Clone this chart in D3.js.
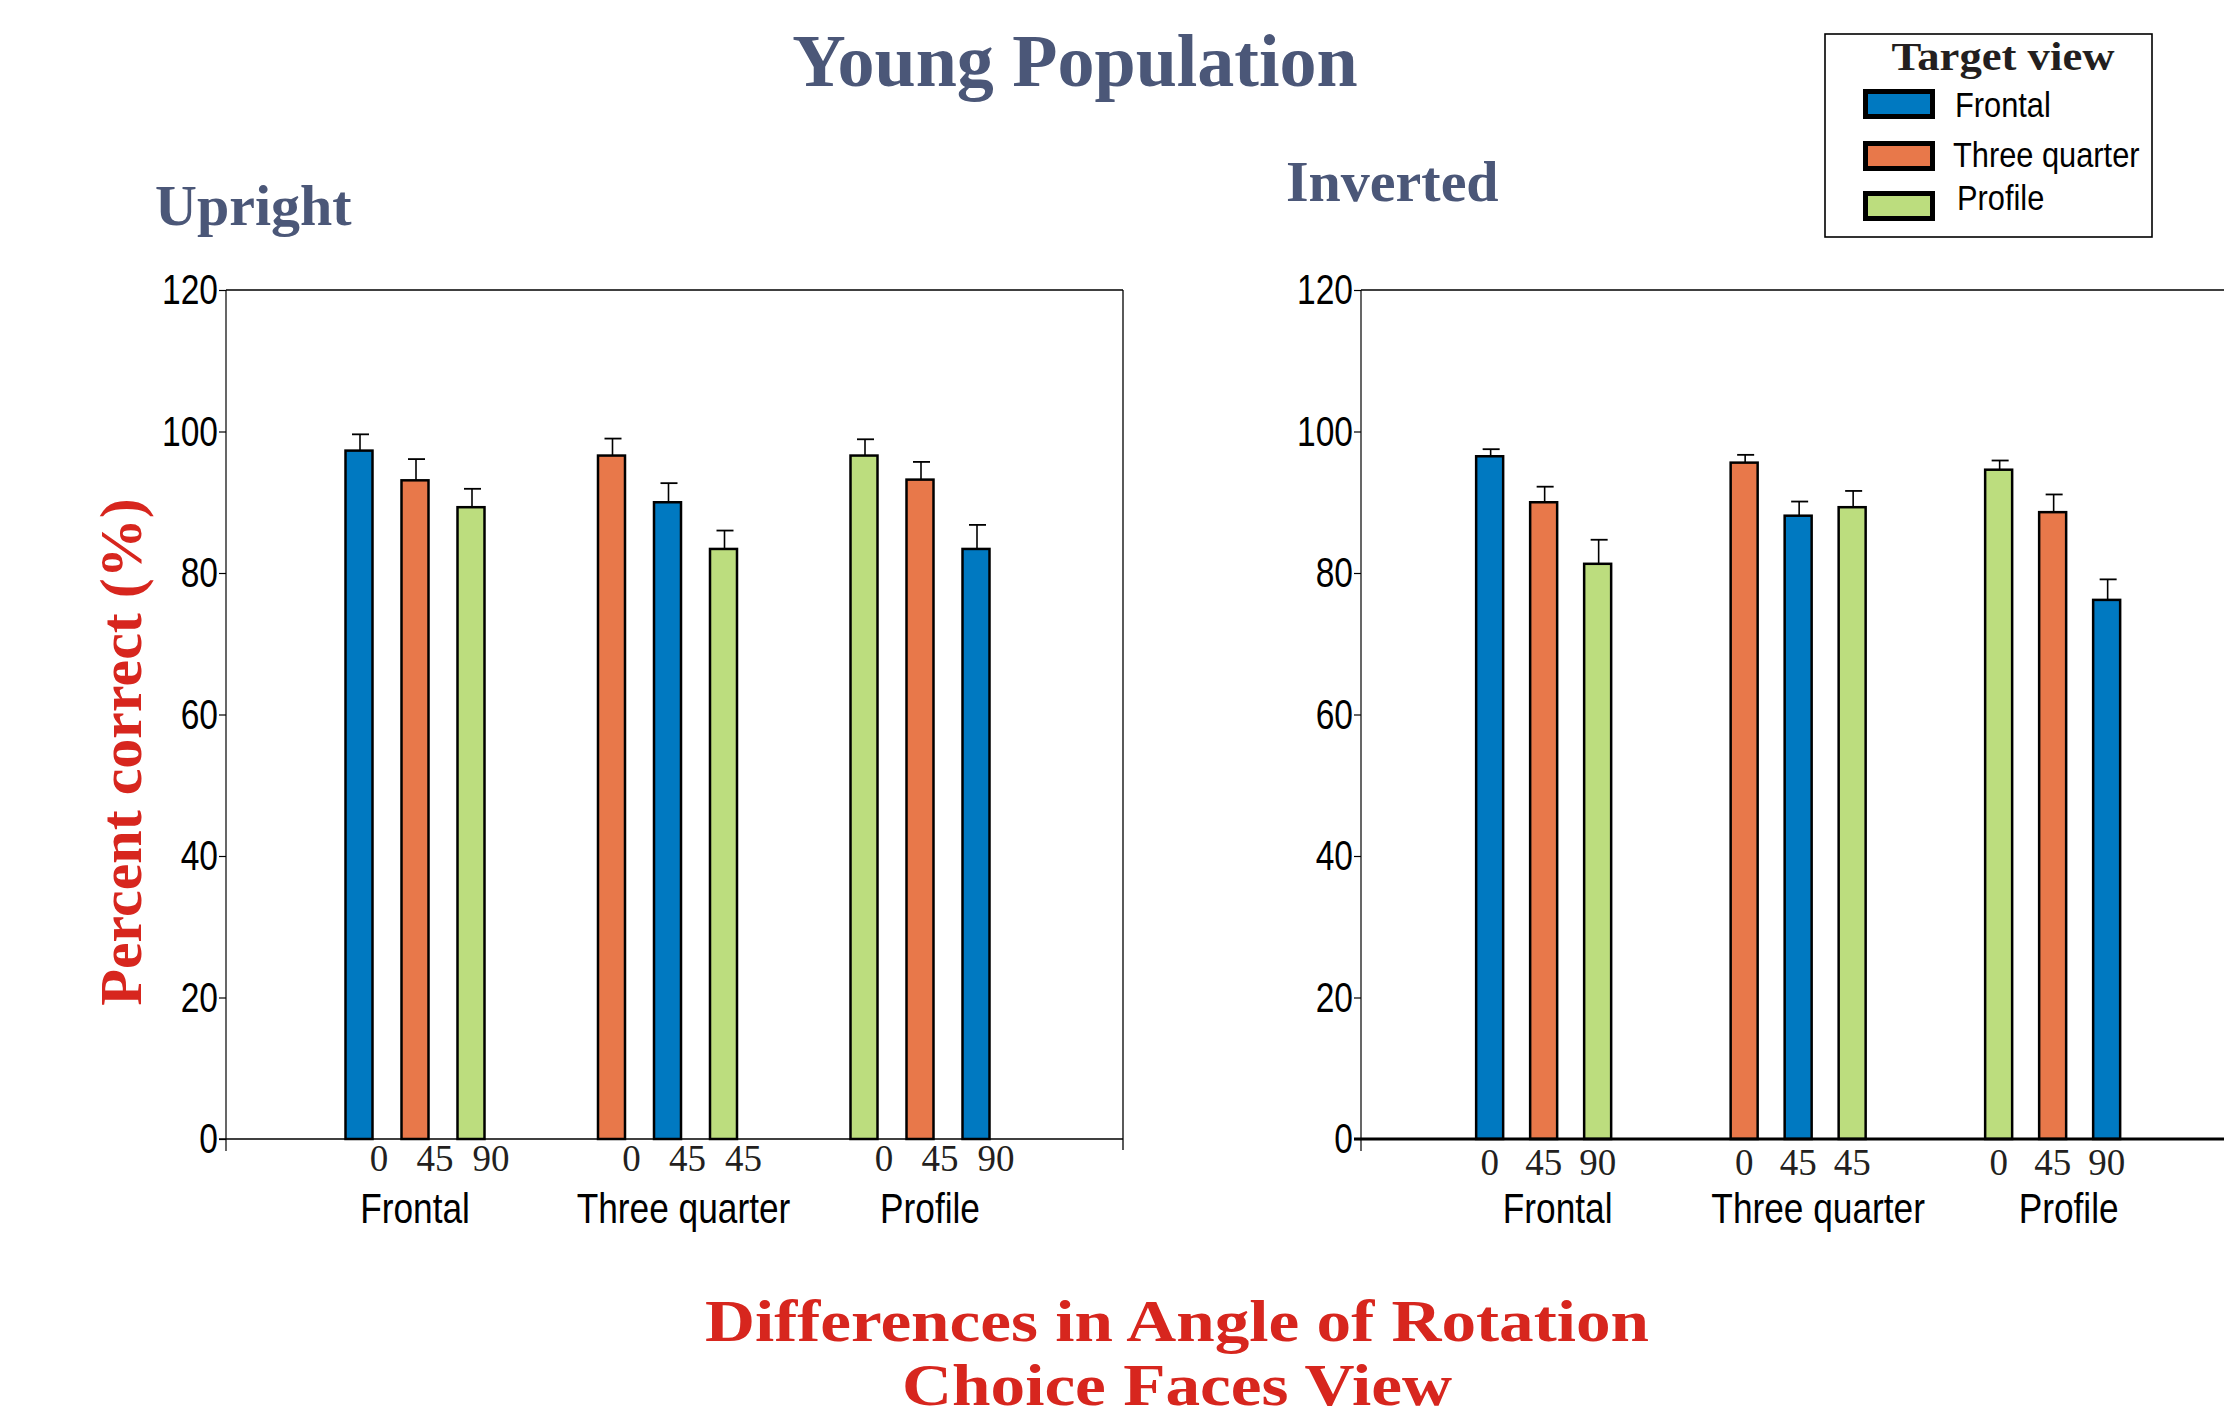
<!DOCTYPE html>
<html>
<head>
<meta charset="utf-8">
<script src="https://cdn.jsdelivr.net/npm/d3@7"></script>
<style>
  html, body { margin: 0; padding: 0; background: #ffffff; }
  svg { display: block; }
</style>
</head>
<body>
<svg id="chart" width="2224" height="1419"></svg>
<script>
// ---------------- DATA ----------------
const groups = ["Frontal", "Three quarter", "Profile"];
const targetViews = ["Frontal", "Three quarter", "Profile"];
const targetColors = ["#0079c1", "#e8784a", "#bcdd7e"];
const yTicks = [0, 20, 40, 60, 80, 100, 120];

// one entry per bar (3 per group)
const barGroup  = ["Frontal", "Frontal", "Frontal", "Three quarter", "Three quarter", "Three quarter", "Profile", "Profile", "Profile"];
const barSlot   = [0, 1, 2, 0, 1, 2, 0, 1, 2];
const barTarget = ["Frontal", "Three quarter", "Profile", "Three quarter", "Frontal", "Profile", "Profile", "Three quarter", "Frontal"];
const barAngle  = ["0", "45", "90", "0", "45", "45", "0", "45", "90"];

const uprightMean  = [97.3, 93.1, 89.3, 96.6, 90.0, 83.4, 96.6, 93.2, 83.4];
const uprightErr   = [2.3, 3.0, 2.6, 2.4, 2.7, 2.6, 2.3, 2.5, 3.4];
const invertedMean = [96.5, 90.0, 81.3, 95.6, 88.1, 89.3, 94.6, 88.6, 76.2];
const invertedErr  = [1.0, 2.2, 3.4, 1.1, 2.0, 2.3, 1.3, 2.5, 2.9];

const mainTitle = "Young Population";
const panelTitles = ["Upright", "Inverted"];
const yLabel = "Percent correct (%)";
const xLabelLines = ["Differences in Angle of Rotation", "Choice Faces View"];
const legendTitle = "Target view";

// ---------------- STYLE / LAYOUT ----------------
const slate = "#4b5778";
const red = "#d7261e";
const serif = "'Liberation Serif', 'Times New Roman', serif";
const sans = "'Liberation Sans', Arial, sans-serif";

const svg = d3.select("#chart");
svg.append("rect").attr("width", 2224).attr("height", 1419).attr("fill", "#fff");

const y = d3.scaleLinear().domain([0, 120]).range([1139, 290]);
const color = d3.scaleOrdinal().domain(targetViews).range(targetColors);

function condensedText(parent, x, yPos, txt, size, sx, anchor, fill) {
  const g = parent.append("g").attr("transform", `translate(${x},${yPos})`);
  g.append("text")
    .attr("transform", `scale(${sx},1)`)
    .attr("text-anchor", anchor)
    .attr("font-family", sans)
    .attr("font-size", size)
    .attr("fill", fill || "#000")
    .text(txt);
  return g;
}

const panels = [
  { title: panelTitles[0], titleX: 155, titleY: 225, mean: uprightMean, err: uprightErr,
    axisX: 226, rightX: 1123, rightBorder: true, groupRange: [288.75, 1046.25], step: 56,
    angleDx: 20, angleY: 1171, groupDx: [0, 16, 10], baseW: 1.6 },
  { title: panelTitles[1], titleX: 1286, titleY: 201, mean: invertedMean, err: invertedErr,
    axisX: 1361, rightX: 2224, rightBorder: false, groupRange: [1416.4, 2179.9], step: 54,
    angleDx: 0, angleY: 1175, groupDx: [14, 20, 16], baseW: 3 }
];

const barW = 27;

panels.forEach(p => {
  const g = svg.append("g");

  const x0 = d3.scaleBand().domain(groups).range(p.groupRange).padding(0);
  const x1 = d3.scalePoint().domain([0, 1, 2]).range([-p.step, p.step]);
  const cx = i => x0(barGroup[i]) + x0.bandwidth() / 2 + x1(barSlot[i]);

  // panel title
  g.append("text")
    .attr("x", p.titleX).attr("y", p.titleY)
    .attr("font-family", serif).attr("font-weight", "bold")
    .attr("font-size", 58).attr("fill", slate)
    .text(p.title);

  // frame
  g.append("line").attr("x1", p.axisX).attr("x2", p.rightX)
    .attr("y1", y(120)).attr("y2", y(120)).attr("stroke", "#000").attr("stroke-width", 1.5);
  if (p.rightBorder) {
    g.append("line").attr("x1", p.rightX).attr("x2", p.rightX)
      .attr("y1", y(120)).attr("y2", y(0) + 11).attr("stroke", "#000").attr("stroke-width", 1.3);
  }
  g.append("line").attr("x1", p.axisX).attr("x2", p.axisX)
    .attr("y1", y(120)).attr("y2", y(0) + 12).attr("stroke", "#000").attr("stroke-width", 1.2);

  // y axis
  const sx = 0.78;
  const ax = g.append("g").attr("transform", `translate(${p.axisX},0)`)
    .call(d3.axisLeft(y).tickValues(yTicks).tickSize(7).tickPadding(2).tickSizeOuter(0));
  ax.select(".domain").remove();
  ax.selectAll(".tick line").attr("stroke", "#000").attr("stroke-width", 1.2);
  ax.selectAll(".tick text")
    .attr("font-family", sans).attr("font-size", 43).attr("fill", "#000")
    .attr("x", -8 / sx).attr("transform", `scale(${sx},1)`);

  // bars
  const idx = d3.range(barGroup.length);
  g.selectAll("rect.bar").data(idx).join("rect")
    .attr("class", "bar")
    .attr("x", i => cx(i) - barW / 2)
    .attr("y", i => y(p.mean[i]))
    .attr("width", barW)
    .attr("height", i => y(0) - y(p.mean[i]))
    .attr("fill", i => color(barTarget[i]))
    .attr("stroke", "#000").attr("stroke-width", 2.5);

  // baseline (over bars)
  g.append("line").attr("x1", p.axisX - 7).attr("x2", p.rightX)
    .attr("y1", y(0)).attr("y2", y(0)).attr("stroke", "#000").attr("stroke-width", p.baseW);

  // error bars
  g.selectAll("line.err").data(idx).join("line")
    .attr("class", "err")
    .attr("x1", i => cx(i) + 1).attr("x2", i => cx(i) + 1)
    .attr("y1", i => y(p.mean[i])).attr("y2", i => y(p.mean[i] + p.err[i]))
    .attr("stroke", "#000").attr("stroke-width", 1.6);
  g.selectAll("line.cap").data(idx).join("line")
    .attr("class", "cap")
    .attr("x1", i => cx(i) - 7).attr("x2", i => cx(i) + 10)
    .attr("y1", i => y(p.mean[i] + p.err[i])).attr("y2", i => y(p.mean[i] + p.err[i]))
    .attr("stroke", "#000").attr("stroke-width", 1.8);

  // angle labels
  g.selectAll("text.angle").data(idx).join("text")
    .attr("class", "angle")
    .attr("x", i => cx(i) + p.angleDx)
    .attr("y", p.angleY)
    .attr("text-anchor", "middle")
    .attr("font-family", serif).attr("font-size", 37).attr("fill", "#231f20")
    .text(i => barAngle[i]);

  // group labels
  groups.forEach((gr, k) => {
    condensedText(g, x0(gr) + x0.bandwidth() / 2 + p.groupDx[k], 1223, gr, 43, 0.82, "middle");
  });
});

// main title
svg.append("text")
  .attr("x", 1075).attr("y", 86)
  .attr("text-anchor", "middle")
  .attr("font-family", serif).attr("font-weight", "bold")
  .attr("font-size", 74).attr("fill", slate)
  .text(mainTitle);

// y label
svg.append("text")
  .attr("transform", "translate(141,752) rotate(-90)")
  .attr("text-anchor", "middle")
  .attr("font-family", serif).attr("font-weight", "bold")
  .attr("font-size", 60).attr("fill", red)
  .text(yLabel);

// x label lines
const xlW = [944, 550];
const xlY = [1341, 1405];
xLabelLines.forEach((t, i) => {
  svg.append("text")
    .attr("x", 1177).attr("y", xlY[i])
    .attr("text-anchor", "middle")
    .attr("font-family", serif).attr("font-weight", "bold")
    .attr("font-size", 59).attr("fill", red)
    .attr("textLength", xlW[i]).attr("lengthAdjust", "spacingAndGlyphs")
    .text(t);
});

// legend
const lg = svg.append("g");
lg.append("rect").attr("x", 1825).attr("y", 34).attr("width", 327).attr("height", 203)
  .attr("fill", "#fff").attr("stroke", "#000").attr("stroke-width", 1.6);
lg.append("text")
  .attr("x", 2003).attr("y", 70).attr("text-anchor", "middle")
  .attr("font-family", serif).attr("font-weight", "bold")
  .attr("font-size", 40).attr("fill", "#231f20")
  .attr("textLength", 223).attr("lengthAdjust", "spacingAndGlyphs")
  .text(legendTitle);
const swY = [91.5, 143.5, 193.5];
const lblY = [117, 167, 210];
const lblX = [1955, 1953, 1957];
targetViews.forEach((t, i) => {
  lg.append("rect").attr("x", 1865.5).attr("y", swY[i]).attr("width", 67).attr("height", 25)
    .attr("fill", color(t)).attr("stroke", "#000").attr("stroke-width", 5);
  condensedText(lg, lblX[i], lblY[i], t, 35, 0.88, "start");
});
</script>
</body>
</html>
